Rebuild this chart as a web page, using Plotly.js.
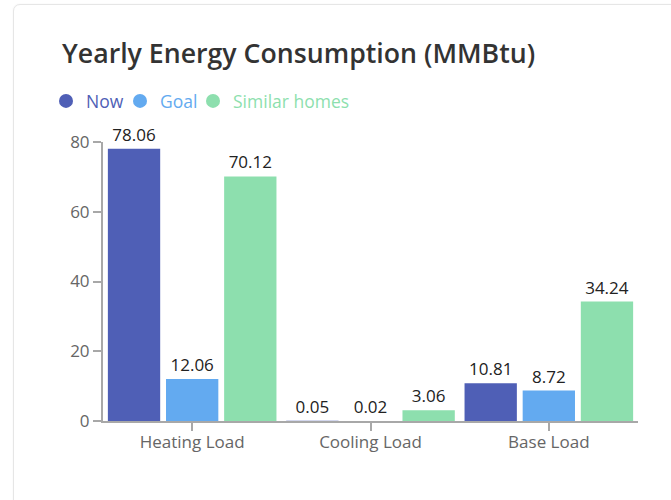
<!DOCTYPE html>
<html>
<head>
<meta charset="utf-8">
<script src="https://cdn.plot.ly/plotly-3.0.1.min.js"></script>
<style>
  html, body { margin: 0; padding: 0; background: #ffffff; width: 671px; height: 500px; overflow: hidden; }
  #card { position: absolute; left: 13px; top: 4px; width: 720px; height: 560px;
          border: 1.5px solid #e6e6e6; border-radius: 7px; box-shadow: 0 0 2px rgba(0,0,0,0.06); background: #fff; }
  #chart { position: absolute; left: 0; top: 0; width: 671px; height: 500px; }
</style>
</head>
<body>
<div id="card"></div>
<div id="chart"></div>
<script>
const categories = ['Heating Load', 'Cooling Load', 'Base Load'];
const nowValues = [78.06, 0.05, 10.81];
const goalValues = [12.06, 0.02, 8.72];
const similarValues = [70.12, 3.06, 34.24];
const seriesNames = ['Now', 'Goal', 'Similar homes'];
const seriesColors = ['#4f5fb6', '#63aaf0', '#8ddfae'];
const yTicks = [0, 20, 40, 60, 80];

const seriesValues = [nowValues, goalValues, similarValues];
const legendIds = ['legend', 'legend2', 'legend3'];
const legendLeft = [46, 120, 193];

const traces = [];
seriesValues.forEach((vals, i) => {
  traces.push({
    type: 'bar',
    x: categories,
    y: vals,
    name: seriesNames[i],
    marker: { color: seriesColors[i] },
    texttemplate: '%{y:.2f}',
    textposition: 'outside',
    textfont: { family: 'Open Sans', size: 17, color: '#222222' },
    cliponaxis: false,
    showlegend: false,
    hoverinfo: 'x+y+name'
  });
});
seriesNames.forEach((n, i) => {
  traces.push({
    type: 'scatter',
    mode: 'markers',
    x: [null], y: [null],
    name: '<span style="color:' + seriesColors[i] + '">' + n + '</span>',
    marker: { color: seriesColors[i], size: 14, symbol: 'circle' },
    showlegend: true,
    legend: legendIds[i],
    hoverinfo: 'skip'
  });
});

const layout = {
  width: 671, height: 500,
  paper_bgcolor: 'rgba(0,0,0,0)',
  plot_bgcolor: 'rgba(0,0,0,0)',
  margin: { l: 103, r: 33, t: 142, b: 79, pad: 0 },
  font: { family: 'Open Sans', color: '#666666' },
  title: {
    text: 'Yearly Energy Consumption (MMBtu)',
    font: { family: 'Open Sans', size: 26.7, weight: 600, color: '#333333' },
    x: 62 / 671, xref: 'container', xanchor: 'left',
    y: 1 - 54 / 500, yref: 'container', yanchor: 'middle'
  },
  barmode: 'group',
  bargap: 0.022,
  bargroupgap: 0.1,
  showlegend: true,
  xaxis: {
    type: 'category',
    showline: true, linecolor: '#a8a8a8', linewidth: 2,
    ticks: 'outside', ticklen: 8, tickwidth: 2, tickcolor: '#a8a8a8',
    ticklabelstandoff: -3,
    tickfont: { family: 'Open Sans', size: 17, color: '#666666' },
    showgrid: false, zeroline: false, fixedrange: true
  },
  yaxis: {
    range: [0, 80],
    tickvals: yTicks,
    showline: true, linecolor: '#a8a8a8', linewidth: 2,
    ticks: 'outside', ticklen: 8, tickwidth: 2, tickcolor: '#a8a8a8',
    tickfont: { family: 'Open Sans', size: 17, color: '#666666' },
    showgrid: false, zeroline: false, fixedrange: true
  }
};
legendIds.forEach((id, i) => {
  layout[id] = {
    orientation: 'h',
    x: legendLeft[i] / 671, xref: 'container', xanchor: 'left',
    y: 1 - 101 / 500, yref: 'container', yanchor: 'middle',
    font: { family: 'Open Sans', size: 17.5 },
    bgcolor: 'rgba(0,0,0,0)',
    itemclick: false, itemdoubleclick: false
  };
});

Plotly.newPlot('chart', traces, layout, { displayModeBar: false, staticPlot: true });
</script>
</body>
</html>
